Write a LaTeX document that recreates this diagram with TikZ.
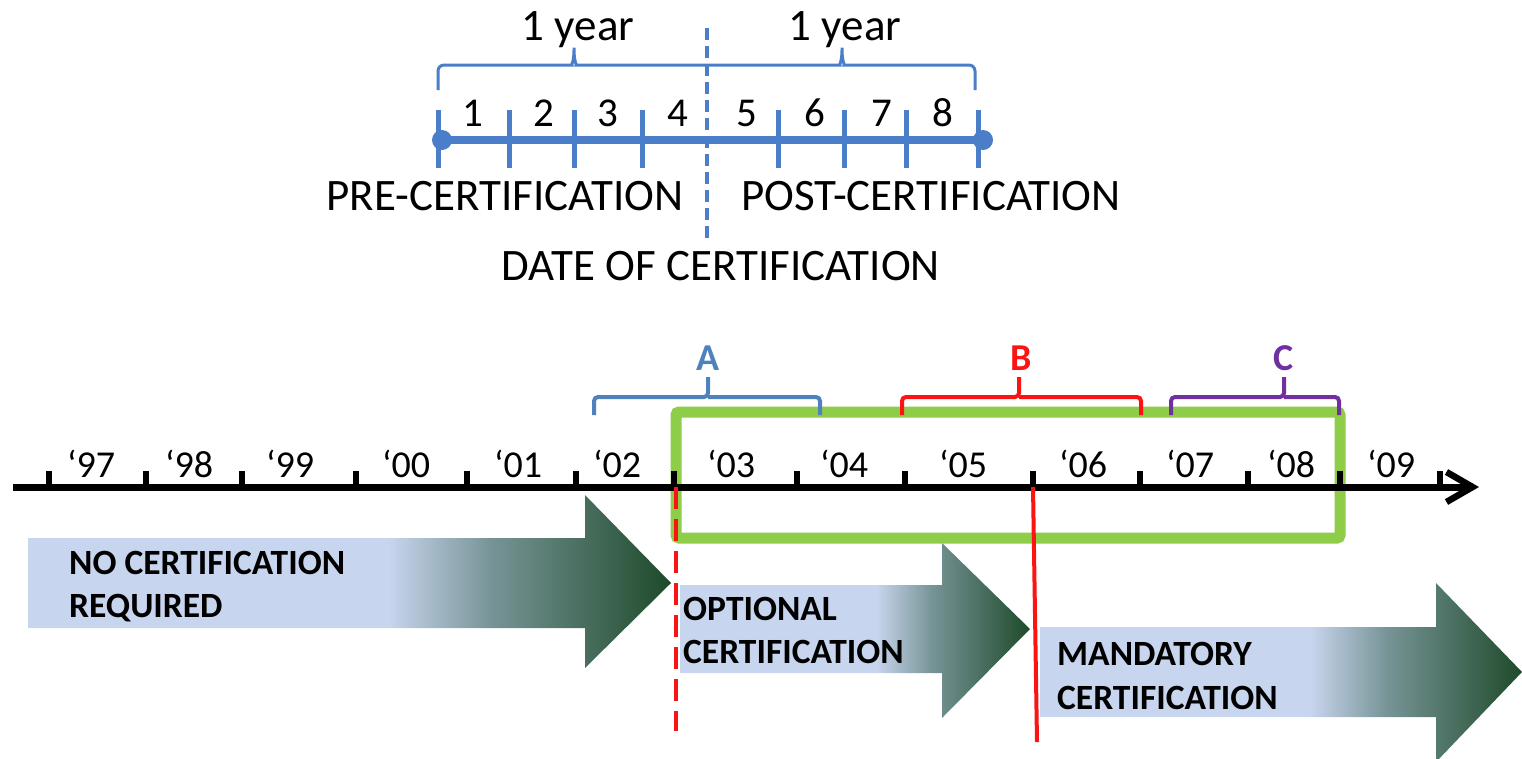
\documentclass[tikz,border=0pt]{standalone}
\usepackage{fontspec}
\setmainfont{Carlito}
\usetikzlibrary{arrows.meta}
\definecolor{tlblue}{RGB}{74,126,200}
\definecolor{ablue}{RGB}{79,129,189}
\definecolor{bred}{RGB}{250,20,20}
\definecolor{cpur}{RGB}{112,48,160}
\definecolor{gbox}{RGB}{141,205,72}
\definecolor{lightb}{RGB}{200,213,238}
\definecolor{midg}{RGB}{118,148,150}
\definecolor{darkg}{RGB}{30,74,42}
\pgfdeclarehorizontalshading{arrowshade}{100bp}{color(0bp)=(lightb); color(25bp)=(lightb); color(53bp)=(lightb); color(61bp)=(midg); color(75bp)=(darkg); color(100bp)=(darkg)}
\tikzset{
  toptxt/.style={font=\fontsize{45}{50}\selectfont, anchor=base, inner sep=0},
  numtxt/.style={font=\fontsize{41}{46}\selectfont, anchor=base, inner sep=0},
  yeartxt/.style={font=\fontsize{38}{44}\selectfont, anchor=base, inner sep=0},
  boldtxt/.style={font=\bfseries\fontsize{35.5}{40}\selectfont, anchor=base west, inner sep=0},
  lettxt/.style={font=\bfseries\fontsize{38}{44}\selectfont, anchor=base, inner sep=0},
  bluetick/.style={tlblue, line width=5pt},
  yeartick/.style={black, line width=6pt},
  bigarrow/.style={shading=arrowshade},
  bracketline/.style={line width=4pt, rounded corners=4pt},
}
\begin{document}
\begin{tikzpicture}[x=1pt,y=-1pt]
\useasboundingbox (0,0) rectangle (1522,758);
% ---------- top timeline ----------
\draw[tlblue, line width=4pt, dash pattern=on 12pt off 6pt] (707,28) coordinate (dtop) -- (707,240) coordinate (dbot);
\draw[tlblue, line width=8pt] (442,140) coordinate (tl) -- (983,140) coordinate (tr);
\fill[tlblue] (tl) circle (10);
\fill[tlblue] (tr) circle (10);
\foreach \x in {438,509,574,642,778,844,906,978}{
  \draw[bluetick] (\x,110) -- (\x,168);
}
% brace
\draw[tlblue, line width=3pt, rounded corners=6pt]
  (438,90) -- (438,65) -- (566,65) .. controls (571,65) and (574,62) .. (574,44)
  .. controls (574,62) and (577,65) .. (582,65) -- (834,65)
  .. controls (839,65) and (842,62) .. (842,44)
  .. controls (842,62) and (845,65) .. (850,65) -- (975,65) -- (975,90);
\node[toptxt] (y1) at (578,40) {1 year};
\node[toptxt] (y2) at (845,40) {1 year};
\foreach \n/\x in {1/473,2/544,3/608,4/678,5/747,6/815,7/882,8/943}{
  \node[numtxt] (n\n) at (\x,126) {\n};
}
\node[toptxt] (pre) at (505,210) {PRE-CERTIFICATION};
\node[toptxt] (post) at (931,210) {POST-CERTIFICATION};
\node[toptxt] (date) at (721,280) {DATE OF CERTIFICATION};
% ---------- block arrows ----------
\shade[bigarrow] (28,538) -- (585,538) -- (585,495) -- (671,583) -- (585,668) -- (585,628) -- (28,628) -- cycle;
\shade[bigarrow] (680,585) -- (942,585) -- (942,543) -- (1030,629) -- (942,718) -- (942,673) -- (680,673) -- cycle;
\shade[bigarrow] (1040,627) -- (1436,627) -- (1436,583) -- (1522,672) -- (1436,762) -- (1436,717) -- (1040,717) -- cycle;
\node[boldtxt] (t1a) at (69,574) {NO CERTIFICATION};
\node[boldtxt] (t1b) at (69,617) {REQUIRED};
\node[boldtxt] (t2a) at (683,620) {OPTIONAL};
\node[boldtxt] (t2b) at (683,663) {CERTIFICATION};
\node[boldtxt] (t3a) at (1057,665) {MANDATORY};
\node[boldtxt] (t3b) at (1057,709) {CERTIFICATION};
% ---------- green box ----------
\draw[gbox, line width=11pt, rounded corners=3pt] (676,412) rectangle (1340,538);
% ---------- brackets ----------
\draw[ablue, bracketline] (594,415) -- (594,397) -- (708,397) -- (708,377);
\draw[ablue, bracketline] (708,397) -- (820,397) -- (820,415);
\draw[bred, bracketline] (902,415) -- (902,397) -- (1019,397) -- (1019,377);
\draw[bred, bracketline] (1019,397) -- (1141,397) -- (1141,415);
\draw[cpur, bracketline] (1171,415) -- (1171,397) -- (1284,397) -- (1284,377);
\draw[cpur, bracketline] (1284,397) -- (1339,397) -- (1339,415);
\node[lettxt, ablue] (la) at (708,370) {A};
\node[lettxt, bred] (lb) at (1021,370) {B};
\node[lettxt, cpur] (lc) at (1284,370) {C};
% ---------- main axis ----------
\draw[black, line width=7pt, -{Straight Barb[length=26pt, width=30pt, line width=6.5pt]}] (13,487) coordinate (ax0) -- (1479,487) coordinate (ax1);
\foreach \x in {49,146,242,356,467,576,674,797,905,1033,1140,1248,1340,1440}{
  \draw[yeartick] (\x,487) -- (\x,471);
}
\foreach \lab/\x in {97/91,98/189,99/290,00/406,01/518,02/617,03/731,04/844,05/963,06/1083,07/1190,08/1291,09/1391}{
  \node[yeartxt] (yr\lab) at (\x,477) {‘\lab};
}
% ---------- red lines ----------
\draw[bred, line width=4pt, dash pattern=on 22pt off 10pt] (676,487) coordinate (rd0) -- (676,731) coordinate (rd1);
\draw[bred, line width=4pt] (1033,487) coordinate (rs0) -- (1037,742) coordinate (rs1);
\end{tikzpicture}
\end{document}
